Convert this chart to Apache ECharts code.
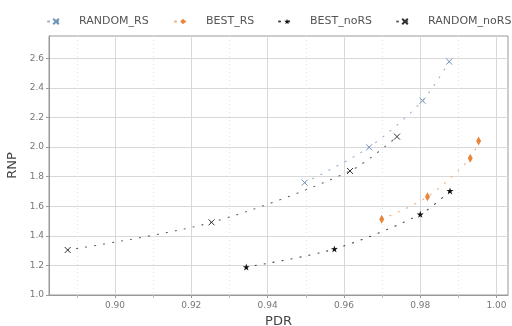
<!DOCTYPE html>
<html>
<head>
<meta charset="utf-8">
<script src="https://cdn.jsdelivr.net/npm/echarts@6/dist/echarts.min.js"></script>
<style>
  html, body { margin: 0; padding: 0; background: #fff; }
  #chart { width: 512px; height: 326px; }
</style>
</head>
<body>
<div id="chart"></div>
<script>
// Series values: [PDR, RNP]
const randomRS   = [[0.9497, 1.759], [0.9666, 1.998], [0.9806, 2.313], [0.9876, 2.577]];
const bestRS     = [[0.9699, 1.511], [0.9819, 1.664], [0.9931, 1.924], [0.9953, 2.041]];
const bestNoRS   = [[0.9344, 1.189], [0.9575, 1.311], [0.9800, 1.545], [0.9878, 1.703]];
const randomNoRS = [[0.8876, 1.304], [0.9253, 1.491], [0.9616, 1.838], [0.9739, 2.070]];

// Axis ticks
const xMajorTicks = [0.90, 0.92, 0.94, 0.96, 0.98, 1.00];
const xMinorTicks = [0.89, 0.91, 0.93, 0.95, 0.97, 0.99];
const yTicks = [1.0, 1.2, 1.4, 1.6, 1.8, 2.0, 2.2, 2.4, 2.6];
const xRange = [0.8827, 1.003];
const yRange = [1.0, 2.75];

const FONT = 'DejaVu Sans';
const SYM_X = 'path://M0,0L10,10M10,0L0,10';
const SYM_STAR = 'path://M5,0L6.18,3.62L10,3.62L6.91,5.86L8.09,9.5L5,7.26L1.91,9.5L3.09,5.86L0,3.62L3.82,3.62Z';

function makeSeries(name, data, color, symbol, size, lineColor, border) {
  return {
    name: name,
    type: 'line',
    data: data,
    smooth: 0.3,
    symbol: symbol,
    symbolSize: size,
    showSymbol: true,
    itemStyle: {
      color: color,
      borderColor: color,
      borderWidth: border
    },
    lineStyle: { color: lineColor, width: 1.1, type: [1.1, 8], cap: 'round' },
    emphasis: { disabled: true },
    z: 3
  };
}

const legendText = { fontFamily: FONT, fontSize: 11, color: '#555', padding: [0, 0, 0, 10] };
function legendAt(name, left) {
  return {
    data: [name], left: left, top: 11, itemWidth: 16, itemHeight: 7,
    textStyle: legendText, selectedMode: false
  };
}

const chart = echarts.init(document.getElementById('chart'), null, { renderer: 'canvas' });
chart.setOption({
  animation: false,
  backgroundColor: '#fff',
  legend: [
    legendAt('RANDOM_RS', 42),
    legendAt('BEST_RS', 169),
    legendAt('BEST_noRS', 273),
    legendAt('RANDOM_noRS', 391)
  ],
  grid: {
    left: 49, right: 4, top: 36, bottom: 31,
    outerBoundsMode: 'none', containLabel: false,
    show: true, borderColor: '#999', borderWidth: 1, backgroundColor: '#fff'
  },
  xAxis: [{
    type: 'value',
    min: xRange[0], max: xRange[1],
    name: 'PDR', nameLocation: 'middle', nameGap: 18,
    nameTextStyle: { fontFamily: FONT, fontSize: 13, color: '#444' },
    axisLine: { show: true, lineStyle: { color: '#999' } },
    axisTick: { show: true, inside: false, length: 3, lineStyle: { color: '#999' }, customValues: xMajorTicks },
    axisLabel: {
      customValues: xMajorTicks, fontFamily: FONT, fontSize: 9, color: '#777', margin: 6,
      formatter: v => v.toFixed(2)
    },
    splitLine: { show: true, lineStyle: { color: '#d8d8d8', width: 1 } }
  }, {
    type: 'value',
    min: xRange[0], max: xRange[1],
    position: 'bottom',
    axisLine: { show: false },
    axisTick: { show: true, length: 3, lineStyle: { color: '#bbb' }, customValues: xMinorTicks },
    axisLabel: { show: false, customValues: xMinorTicks },
    splitLine: { show: true, lineStyle: { color: '#e4e4e4', width: 1, type: [1, 3] } }
  }],
  yAxis: {
    type: 'value',
    min: yRange[0], max: yRange[1],
    name: 'RNP', nameLocation: 'middle', nameGap: 28, nameRotate: 90,
    nameTextStyle: { fontFamily: FONT, fontSize: 13, color: '#444' },
    axisLine: { show: true, lineStyle: { color: '#999' } },
    axisTick: { show: true, length: 3, lineStyle: { color: '#999' }, customValues: yTicks },
    axisLabel: { customValues: yTicks, fontFamily: FONT, fontSize: 9, color: '#777', margin: 5, formatter: v => v.toFixed(1) },
    splitLine: { show: true, lineStyle: { color: '#d8d8d8', width: 1 } }
  },
  series: [
    makeSeries('RANDOM_RS', randomRS, '#6f92b8', SYM_X, 6, '#93adcb', 1),
    makeSeries('BEST_RS', bestRS, '#e8853a', 'diamond', [5, 9], '#efac7c', 0),
    makeSeries('BEST_noRS', bestNoRS, '#111', SYM_STAR, 7, '#444', 0),
    makeSeries('RANDOM_noRS', randomNoRS, '#333', SYM_X, 6, '#666', 1)
  ]
});
</script>
</body>
</html>
